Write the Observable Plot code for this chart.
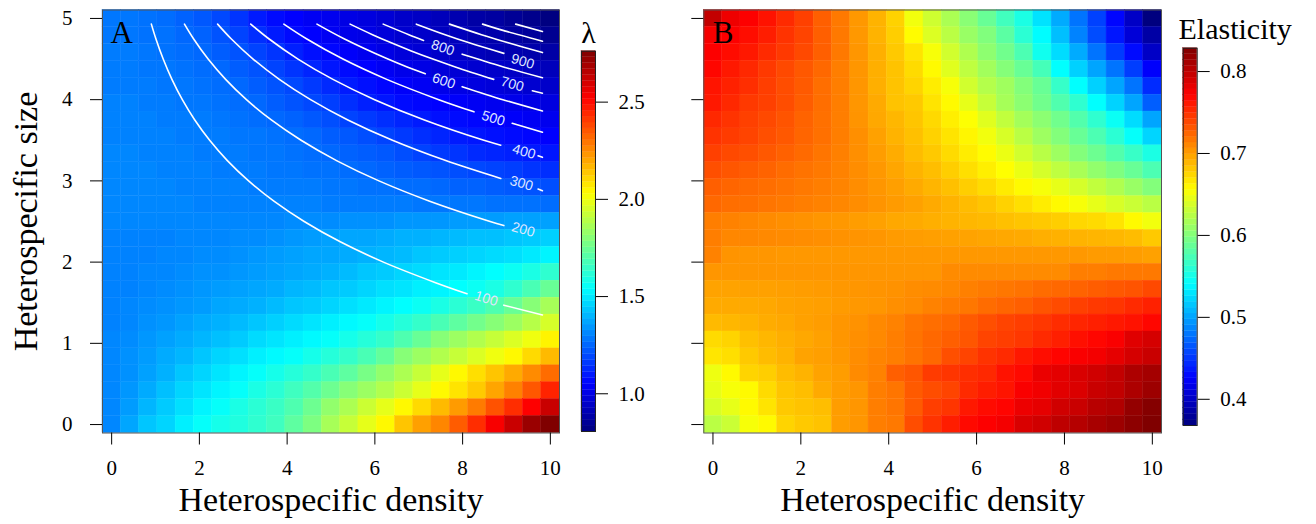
<!DOCTYPE html>
<html>
<head>
<meta charset="utf-8">
<script src="https://cdn.jsdelivr.net/npm/d3@7"></script>
<script src="https://cdn.jsdelivr.net/npm/@observablehq/plot@0.6"></script>
<style>
  html, body { margin: 0; padding: 0; background: #fff; }
  #wrap { position: relative; width: 1316px; height: 524px; overflow: hidden; background: #fff; }
  #wrap svg { position: absolute; top: 0; }
</style>
</head>
<body>
<div id="wrap"></div>
<script>
// ---------------- data ----------------
const density = [0,0.417,0.833,1.25,1.667,2.083,2.5,2.917,3.333,3.75,4.167,4.583,5,5.417,5.833,6.25,6.667,7.083,7.5,7.917,8.333,8.75,9.167,9.583,10];
const sizeTopDown = [5,4.792,4.583,4.375,4.167,3.958,3.75,3.542,3.333,3.125,2.917,2.708,2.5,2.292,2.083,1.875,1.667,1.458,1.25,1.042,0.833,0.625,0.417,0.208,0];
const densityTicks = [0,2,4,6,8,10];
const sizeTicks = [0,1,2,3,4,5];
const lambdaTicks = [1.0,1.5,2.0,2.5];
const elasticityTicks = [0.4,0.5,0.6,0.7,0.8];
const lambdaRange = [0.806, 2.762];
const elasticityRange = [0.368, 0.8285];

// Panel A: lambda, rows from size = 5 (top) to size = 0 (bottom)
const lambdaRows = [
[1.28,1.28,1.27,1.26,1.24,1.22,1.19,1.15,1.10,1.07,1.05,1.03,1.02,1.00,0.99,0.97,0.95,0.94,0.92,0.90,0.88,0.87,0.85,0.83,0.81],
[1.28,1.28,1.27,1.27,1.25,1.24,1.21,1.18,1.14,1.10,1.07,1.05,1.03,1.01,1.00,0.98,0.96,0.95,0.93,0.92,0.90,0.89,0.87,0.86,0.84],
[1.29,1.29,1.28,1.27,1.26,1.25,1.23,1.21,1.18,1.15,1.11,1.08,1.06,1.04,1.02,1.00,0.98,0.97,0.95,0.94,0.92,0.91,0.90,0.89,0.88],
[1.29,1.29,1.28,1.28,1.27,1.26,1.25,1.23,1.21,1.18,1.15,1.12,1.09,1.07,1.05,1.03,1.01,1.00,0.98,0.97,0.96,0.95,0.94,0.93,0.92],
[1.29,1.29,1.29,1.28,1.28,1.27,1.26,1.25,1.23,1.21,1.19,1.16,1.13,1.10,1.08,1.06,1.04,1.03,1.01,1.00,0.99,0.98,0.97,0.96,0.95],
[1.30,1.30,1.29,1.29,1.28,1.28,1.27,1.26,1.25,1.23,1.21,1.19,1.17,1.14,1.11,1.09,1.07,1.06,1.05,1.04,1.03,1.02,1.01,1.00,0.99],
[1.30,1.30,1.30,1.29,1.29,1.29,1.28,1.27,1.26,1.25,1.24,1.22,1.20,1.18,1.16,1.14,1.12,1.10,1.08,1.07,1.06,1.05,1.04,1.03,1.02],
[1.30,1.30,1.30,1.30,1.29,1.29,1.29,1.28,1.28,1.27,1.26,1.25,1.23,1.22,1.20,1.18,1.16,1.14,1.12,1.10,1.09,1.08,1.07,1.06,1.05],
[1.31,1.31,1.30,1.30,1.30,1.29,1.29,1.29,1.28,1.28,1.27,1.26,1.25,1.24,1.23,1.22,1.20,1.18,1.16,1.15,1.13,1.12,1.11,1.10,1.09],
[1.31,1.31,1.31,1.30,1.30,1.30,1.29,1.29,1.29,1.28,1.28,1.27,1.27,1.26,1.25,1.24,1.23,1.22,1.21,1.20,1.19,1.18,1.17,1.15,1.14],
[1.31,1.31,1.31,1.31,1.30,1.30,1.30,1.30,1.29,1.29,1.29,1.29,1.28,1.28,1.27,1.27,1.26,1.26,1.25,1.24,1.24,1.23,1.22,1.21,1.20],
[1.31,1.31,1.31,1.31,1.31,1.30,1.30,1.30,1.30,1.30,1.30,1.30,1.29,1.29,1.29,1.29,1.29,1.28,1.28,1.28,1.28,1.27,1.27,1.27,1.26],
[1.31,1.31,1.31,1.31,1.31,1.31,1.31,1.31,1.31,1.31,1.32,1.32,1.32,1.33,1.33,1.33,1.34,1.34,1.34,1.35,1.35,1.35,1.36,1.36,1.36],
[1.30,1.30,1.30,1.30,1.31,1.31,1.31,1.32,1.32,1.33,1.34,1.35,1.36,1.37,1.37,1.38,1.39,1.39,1.40,1.41,1.42,1.42,1.43,1.44,1.45],
[1.30,1.30,1.30,1.31,1.31,1.32,1.32,1.33,1.34,1.35,1.36,1.37,1.37,1.38,1.39,1.40,1.41,1.43,1.44,1.45,1.46,1.47,1.48,1.50,1.52],
[1.30,1.30,1.31,1.31,1.32,1.33,1.33,1.34,1.35,1.36,1.37,1.38,1.39,1.41,1.43,1.44,1.46,1.47,1.49,1.50,1.52,1.54,1.56,1.59,1.63],
[1.30,1.30,1.31,1.32,1.33,1.34,1.35,1.36,1.37,1.38,1.40,1.41,1.43,1.44,1.46,1.48,1.49,1.51,1.52,1.54,1.56,1.59,1.63,1.68,1.74],
[1.30,1.31,1.32,1.33,1.34,1.35,1.37,1.38,1.39,1.41,1.43,1.44,1.46,1.48,1.50,1.52,1.54,1.56,1.59,1.62,1.65,1.69,1.74,1.80,1.86],
[1.30,1.31,1.33,1.34,1.36,1.38,1.39,1.41,1.43,1.45,1.47,1.49,1.51,1.53,1.55,1.58,1.61,1.64,1.68,1.72,1.76,1.80,1.84,1.89,1.95],
[1.31,1.32,1.34,1.36,1.38,1.40,1.42,1.44,1.47,1.49,1.51,1.53,1.55,1.58,1.61,1.64,1.69,1.74,1.80,1.84,1.88,1.92,1.96,2.00,2.05],
[1.31,1.33,1.35,1.38,1.40,1.43,1.46,1.48,1.51,1.53,1.55,1.58,1.61,1.64,1.68,1.73,1.80,1.84,1.88,1.92,1.96,2.00,2.04,2.10,2.16],
[1.31,1.33,1.36,1.39,1.43,1.46,1.49,1.52,1.55,1.58,1.61,1.64,1.68,1.72,1.77,1.82,1.87,1.92,1.98,2.04,2.09,2.14,2.19,2.25,2.31],
[1.31,1.34,1.38,1.42,1.46,1.49,1.52,1.55,1.59,1.62,1.66,1.70,1.75,1.80,1.84,1.88,1.93,1.98,2.04,2.08,2.13,2.20,2.27,2.35,2.45],
[1.31,1.35,1.40,1.44,1.48,1.52,1.55,1.59,1.62,1.65,1.69,1.75,1.82,1.87,1.93,1.98,2.04,2.10,2.16,2.22,2.28,2.36,2.43,2.52,2.62],
[1.31,1.37,1.43,1.46,1.51,1.55,1.58,1.60,1.63,1.66,1.72,1.78,1.86,1.92,1.98,2.04,2.14,2.21,2.26,2.34,2.43,2.53,2.62,2.71,2.76]
];

// Panel B: elasticity, rows from size = 5 (top) to size = 0 (bottom)
const elasticityRows = [
[0.798,0.778,0.772,0.763,0.752,0.742,0.728,0.716,0.702,0.690,0.676,0.650,0.634,0.618,0.603,0.588,0.570,0.553,0.528,0.503,0.478,0.455,0.428,0.400,0.368],
[0.775,0.772,0.765,0.758,0.748,0.740,0.728,0.716,0.702,0.690,0.678,0.657,0.640,0.625,0.610,0.599,0.582,0.560,0.540,0.512,0.485,0.460,0.435,0.408,0.385],
[0.772,0.766,0.760,0.752,0.745,0.738,0.728,0.716,0.703,0.692,0.680,0.668,0.652,0.635,0.620,0.605,0.592,0.575,0.548,0.525,0.503,0.478,0.452,0.430,0.400],
[0.768,0.760,0.753,0.745,0.738,0.731,0.724,0.714,0.703,0.692,0.683,0.672,0.658,0.642,0.627,0.614,0.601,0.588,0.572,0.541,0.520,0.500,0.478,0.453,0.424],
[0.762,0.756,0.750,0.743,0.736,0.730,0.721,0.714,0.703,0.692,0.683,0.675,0.664,0.652,0.635,0.622,0.613,0.600,0.588,0.565,0.541,0.520,0.500,0.478,0.445],
[0.760,0.753,0.745,0.742,0.736,0.729,0.721,0.714,0.703,0.694,0.683,0.680,0.668,0.658,0.645,0.630,0.616,0.604,0.592,0.577,0.562,0.541,0.521,0.500,0.468],
[0.753,0.748,0.742,0.738,0.733,0.726,0.720,0.714,0.704,0.695,0.688,0.682,0.673,0.663,0.655,0.642,0.628,0.615,0.604,0.592,0.578,0.562,0.545,0.525,0.500],
[0.748,0.744,0.740,0.735,0.731,0.725,0.720,0.714,0.706,0.698,0.690,0.684,0.676,0.668,0.660,0.650,0.638,0.625,0.612,0.600,0.588,0.575,0.560,0.543,0.522],
[0.742,0.738,0.735,0.731,0.727,0.723,0.718,0.713,0.706,0.700,0.693,0.686,0.680,0.672,0.664,0.657,0.647,0.635,0.624,0.612,0.600,0.590,0.578,0.566,0.553],
[0.735,0.732,0.729,0.726,0.722,0.719,0.716,0.712,0.707,0.702,0.696,0.690,0.685,0.678,0.670,0.663,0.656,0.647,0.637,0.627,0.617,0.607,0.598,0.588,0.575],
[0.728,0.725,0.723,0.721,0.719,0.716,0.714,0.711,0.707,0.703,0.699,0.694,0.689,0.684,0.678,0.672,0.665,0.658,0.652,0.645,0.637,0.628,0.620,0.610,0.600],
[0.724,0.721,0.720,0.718,0.716,0.714,0.712,0.710,0.707,0.704,0.701,0.698,0.694,0.690,0.686,0.682,0.676,0.670,0.664,0.658,0.652,0.645,0.638,0.632,0.625],
[0.714,0.712,0.710,0.708,0.706,0.705,0.703,0.702,0.700,0.698,0.695,0.694,0.692,0.690,0.688,0.687,0.684,0.682,0.680,0.678,0.674,0.672,0.668,0.658,0.650],
[0.714,0.710,0.710,0.709,0.708,0.707,0.706,0.705,0.704,0.703,0.701,0.700,0.699,0.698,0.697,0.696,0.695,0.694,0.692,0.691,0.690,0.689,0.688,0.686,0.680],
[0.712,0.704,0.703,0.703,0.702,0.702,0.702,0.702,0.702,0.702,0.702,0.702,0.702,0.702,0.702,0.702,0.702,0.702,0.702,0.702,0.702,0.701,0.701,0.700,0.698],
[0.703,0.703,0.703,0.703,0.703,0.703,0.703,0.703,0.703,0.703,0.703,0.703,0.703,0.708,0.708,0.708,0.708,0.708,0.708,0.708,0.714,0.714,0.716,0.716,0.716],
[0.697,0.697,0.698,0.698,0.699,0.700,0.701,0.702,0.703,0.704,0.705,0.707,0.708,0.710,0.713,0.715,0.717,0.719,0.722,0.724,0.726,0.729,0.731,0.733,0.738],
[0.694,0.694,0.694,0.695,0.697,0.698,0.699,0.701,0.702,0.703,0.706,0.708,0.712,0.715,0.717,0.722,0.725,0.728,0.733,0.737,0.742,0.745,0.747,0.752,0.756],
[0.687,0.688,0.690,0.693,0.695,0.698,0.700,0.703,0.705,0.709,0.712,0.718,0.721,0.724,0.730,0.735,0.740,0.743,0.746,0.751,0.754,0.757,0.760,0.763,0.768],
[0.672,0.675,0.684,0.688,0.692,0.695,0.698,0.703,0.706,0.709,0.714,0.719,0.724,0.728,0.732,0.740,0.743,0.746,0.752,0.757,0.764,0.768,0.773,0.785,0.790],
[0.667,0.670,0.680,0.686,0.690,0.697,0.699,0.702,0.707,0.711,0.714,0.719,0.724,0.735,0.740,0.748,0.752,0.760,0.765,0.769,0.773,0.776,0.782,0.790,0.795],
[0.648,0.658,0.675,0.678,0.686,0.690,0.697,0.700,0.708,0.712,0.728,0.732,0.744,0.747,0.750,0.753,0.763,0.767,0.780,0.783,0.788,0.792,0.798,0.808,0.812],
[0.645,0.652,0.658,0.672,0.682,0.685,0.694,0.700,0.703,0.714,0.718,0.730,0.736,0.740,0.752,0.758,0.762,0.773,0.777,0.784,0.787,0.795,0.799,0.808,0.815],
[0.638,0.645,0.658,0.668,0.680,0.683,0.685,0.700,0.703,0.714,0.718,0.730,0.743,0.747,0.760,0.766,0.769,0.779,0.782,0.792,0.795,0.803,0.806,0.819,0.826],
[0.625,0.632,0.652,0.658,0.675,0.680,0.683,0.700,0.703,0.714,0.716,0.736,0.748,0.758,0.767,0.772,0.776,0.788,0.792,0.800,0.804,0.810,0.815,0.822,0.828]
];

// Contour lines drawn over panel A; pieces are broken where labels sit
const contourPieces = [
  {level: 100, pts: [[0.905,4.93],[1.008,4.75],[1.175,4.5],[1.374,4.25],[1.611,4.0],[1.895,3.75],[2.234,3.5],[2.638,3.25],[3.122,3.0],[3.699,2.75],[4.389,2.5],[5.211,2.25],[6.195,2.0],[7.369,1.75],[8.10,1.61]]},
  {level: 100, pts: [[8.94,1.47],[9.82,1.35]]},
  {level: 200, pts: [[1.66,4.93],[1.866,4.75],[2.199,4.5],[2.598,4.25],[3.073,4.0],[3.640,3.75],[4.318,3.5],[5.127,3.25],[6.093,3.0],[7.249,2.75],[8.627,2.5],[8.94,2.45]]},
  {level: 300, pts: [[2.415,4.93],[2.724,4.75],[3.224,4.5],[3.822,4.25],[4.534,4.0],[5.384,3.75],[6.401,3.5],[7.615,3.25],[8.87,3.03]]},
  {level: 300, pts: [[9.72,2.90],[9.82,2.88]]},
  {level: 400, pts: [[3.17,4.93],[3.582,4.75],[4.248,4.5],[5.045,4.25],[5.995,4.0],[7.129,3.75],[8.485,3.5],[8.87,3.44]]},
  {level: 400, pts: [[9.72,3.31],[9.82,3.29]]},
  {level: 500, pts: [[3.925,4.93],[4.44,4.75],[5.273,4.5],[6.27,4.25],[7.457,4.0],[8.26,3.85]]},
  {level: 500, pts: [[9.13,3.71],[9.82,3.60]]},
  {level: 600, pts: [[4.68,4.93],[5.297,4.75],[6.297,4.5],[6.75,4.4],[7.15,4.32]]},
  {level: 600, pts: [[7.99,4.16],[8.918,4.0],[9.82,3.86]]},
  {level: 700, pts: [[5.435,4.93],[5.946,4.8],[6.373,4.7],[6.83,4.6],[7.322,4.5],[7.85,4.4],[8.71,4.25]]},
  {level: 700, pts: [[9.59,4.11],[9.82,4.08]]},
  {level: 800, pts: [[6.19,4.93],[6.774,4.8],[7.11,4.73]]},
  {level: 800, pts: [[7.99,4.56],[8.346,4.5],[8.95,4.4],[9.82,4.27]]},
  {level: 900, pts: [[6.945,4.93],[7.602,4.8],[8.15,4.7],[8.94,4.57]]},
  {level: 1000, pts: [[7.70,4.93],[8.43,4.8],[9.04,4.7],[9.82,4.58]]},
  {level: 1100, pts: [[8.455,4.93],[8.94,4.85],[9.82,4.72]]},
  {level: 1200, pts: [[9.21,4.93],[9.82,4.84]]}
];
const contourLabels = [
  {text: "100", x: 8.54, y: 1.55, angle: 17},
  {text: "200", x: 9.38, y: 2.40, angle: 16},
  {text: "300", x: 9.34, y: 2.97, angle: 16},
  {text: "400", x: 9.40, y: 3.36, angle: 16},
  {text: "500", x: 8.70, y: 3.77, angle: 17},
  {text: "600", x: 7.57, y: 4.23, angle: 19},
  {text: "700", x: 9.13, y: 4.19, angle: 16},
  {text: "800", x: 7.55, y: 4.64, angle: 19},
  {text: "900", x: 9.37, y: 4.47, angle: 16}
];

// ---------------- drawing ----------------
const jet = ["#00007F","#0000FF","#007FFF","#00FFFF","#7FFF7F","#FFFF00","#FF7F00","#FF0000","#7F0000"];
const jetInterp = d3.piecewise(d3.interpolateRgb, jet);
const serif = "'Liberation Serif','Times New Roman',Times,serif";
const sans = "'Liberation Sans',Arial,sans-serif";
const hx = (density[1] - density[0]) / 2;
const hy = (sizeTopDown[0] - sizeTopDown[1]) / 2;

function toCells(rows) {
  const out = [];
  rows.forEach((row, r) => row.forEach((v, c) => out.push({x: density[c], y: sizeTopDown[r], v})));
  return out;
}

const contourPts = [];
contourPieces.forEach((p, i) => p.pts.forEach(([x, y]) => contourPts.push({seg: i, level: p.level, x, y})));

function heatPanel(rows, range, o) {
  const marks = [
    Plot.rect(toCells(rows), {
      x1: d => d.x - hx, x2: d => d.x + hx, y1: d => d.y - hy, y2: d => d.y + hy,
      fill: "v", stroke: "v", strokeWidth: 0.4
    }),
    ...(o.extra || []),
    Plot.frame({stroke: "#555", strokeWidth: 1}),
    Plot.axisX({ticks: densityTicks, tickSize: 12, tickPadding: 15, fontSize: 21, fontFamily: serif, label: null, tickFormat: d => String(d)}),
    Plot.axisY({ticks: sizeTicks, tickSize: 12, tickPadding: 18, fontSize: 21, fontFamily: serif, label: null,
                tickFormat: o.yLabels ? (d => String(d)) : (() => "")}),
    Plot.text([o.letter], {frameAnchor: "top-left", text: d => d, dx: o.letterDx, dy: 23, fontSize: 31,
                           fontFamily: serif, textAnchor: "start", lineAnchor: "middle"}),
    Plot.text(["Heterospecific density"], {frameAnchor: "bottom", text: d => d, dy: 67.5, fontSize: 34,
                           fontFamily: serif, textAnchor: "middle", lineAnchor: "middle"})
  ];
  if (o.yLabels) {
    marks.push(Plot.text(["Heterospecific size"], {frameAnchor: "left", text: d => d, rotate: -90, dx: -76, fontSize: 34,
                           fontFamily: serif, textAnchor: "middle", lineAnchor: "middle"}));
  }
  return Plot.plot({
    width: o.width, height: 524,
    marginLeft: o.ml, marginRight: o.width - o.right, marginTop: 9.5, marginBottom: 524 - 432.5,
    x: {domain: [density[0] - hx, density[density.length - 1] + hx]},
    y: {domain: [sizeTopDown[sizeTopDown.length - 1] - hy, sizeTopDown[0] + hy]},
    color: {type: "linear", domain: range, interpolate: jetInterp, clamp: true},
    style: {fontFamily: serif, fontSize: "21px", background: "transparent", color: "#000"},
    marks
  });
}

function colorBar(range, ticks, title, o) {
  const n = 64, step = (range[1] - range[0]) / n;
  const bins = d3.range(n).map(i => ({y1: range[0] + i * step, y2: range[0] + (i + 1) * step, v: range[0] + (i + 0.5) * step}));
  return Plot.plot({
    width: o.width, height: 524,
    marginLeft: o.ml, marginRight: o.width - o.ml - 14, marginTop: o.top, marginBottom: 524 - o.bottom,
    x: {domain: [0, 1], axis: null},
    y: {domain: range},
    color: {type: "linear", domain: range, interpolate: jetInterp, clamp: true},
    style: {fontFamily: serif, fontSize: "21px", background: "transparent", color: "#000"},
    marks: [
      Plot.rect(bins, {x1: 0, x2: 1, y1: "y1", y2: "y2", fill: "v", stroke: "v", strokeWidth: 0.3}),
      Plot.frame({stroke: "#222", strokeWidth: 1}),
      Plot.axisY({anchor: "right", ticks, tickFormat: d3.format(".1f"), tickSize: 12, tickPadding: 11, fontSize: 21, fontFamily: serif, label: null}),
      Plot.text([title], {frameAnchor: o.titleAnchor, text: d => d, dx: o.tdx, dy: o.tdy, fontSize: 30,
                          fontFamily: serif, textAnchor: o.textAnchor, lineAnchor: "middle"})
    ]
  });
}

const wrap = document.getElementById("wrap");
function place(svg, left) { svg.style.left = left + "px"; svg.style.top = "0px"; wrap.appendChild(svg); }

const contourMarks = [
  Plot.line(contourPts, {x: "x", y: "y", z: "seg", stroke: "white", strokeWidth: 1.6, curve: "catmull-rom"}),
  Plot.text(contourLabels, {x: "x", y: "y", text: "text", rotate: "angle", fill: "#dfe6ff", fontSize: 14, fontFamily: sans})
];

place(heatPanel(lambdaRows, lambdaRange, {width: 575, ml: 102, right: 559, yLabels: true, letter: "A", letterDx: 8, extra: contourMarks}), 0);
place(colorBar(lambdaRange, lambdaTicks, "λ", {width: 80, ml: 6, top: 50.7, bottom: 431, titleAnchor: "top", tdx: 0, tdy: -18, textAnchor: "middle"}), 575);
place(heatPanel(elasticityRows, elasticityRange, {width: 525, ml: 48.3, right: 506, yLabels: false, letter: "B", letterDx: 9}), 655);
place(colorBar(elasticityRange, elasticityTicks, "Elasticity", {width: 146, ml: 12.7, top: 47.7, bottom: 425, titleAnchor: "top-left", tdx: -4.7, tdy: -18.5, textAnchor: "start"}), 1170);
</script>
</body>
</html>
